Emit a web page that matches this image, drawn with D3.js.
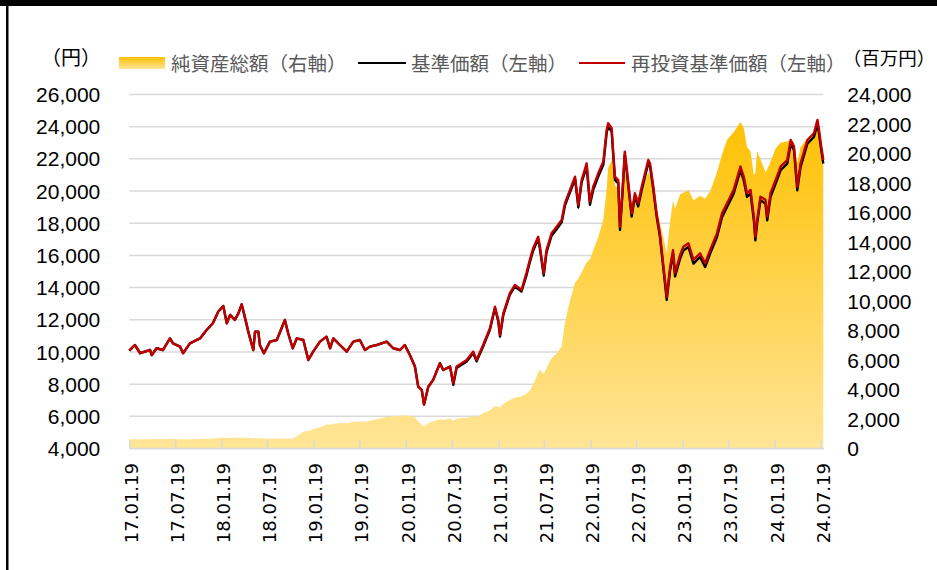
<!DOCTYPE html>
<html>
<head>
<meta charset="utf-8">
<script src="https://cdn.jsdelivr.net/npm/d3@7"></script>
<style>
html,body{margin:0;padding:0;background:#fff;}
svg{display:block;}
</style>
</head>
<body>
<svg id="chart" width="937" height="570"></svg>
<script>
// ---------------- DATA ----------------
const dates = [
"2017-01-19","2017-02-10","2017-03-03","2017-04-11","2017-04-18","2017-05-07","2017-06-01","2017-06-29","2017-07-11","2017-08-08",
"2017-08-20","2017-09-16","2017-10-26","2017-11-21","2017-12-16","2018-01-06","2018-01-26","2018-02-09","2018-02-22","2018-03-13",
"2018-03-27","2018-04-09","2018-04-29","2018-05-05","2018-05-25","2018-06-01","2018-06-14","2018-06-20","2018-07-06","2018-07-30",
"2018-08-26","2018-09-14","2018-09-27","2018-10-10","2018-10-28","2018-11-13","2018-12-09","2018-12-29","2019-01-17","2019-02-13",
"2019-03-11","2019-03-25","2019-04-07","2019-05-03","2019-05-30","2019-06-25","2019-07-21","2019-08-10","2019-08-30","2019-09-25",
"2019-11-04","2019-11-30","2019-12-27","2020-01-15","2020-02-04","2020-02-24","2020-03-08","2020-03-22","2020-03-31","2020-04-17",
"2020-05-06","2020-06-02","2020-06-15","2020-07-12","2020-07-25","2020-08-07","2020-09-16","2020-10-12","2020-10-25","2020-11-20",
"2020-12-17","2021-01-06","2021-01-19","2021-01-26","2021-02-08","2021-03-06","2021-03-26","2021-04-21","2021-05-11","2021-05-24",
"2021-06-06","2021-06-26","2021-07-03","2021-07-18","2021-07-29","2021-08-18","2021-09-07","2021-09-27","2021-10-10","2021-10-30",
"2021-11-19","2021-12-02","2021-12-15","2022-01-04","2022-01-17","2022-01-30","2022-02-19","2022-03-11","2022-03-24","2022-03-30",
"2022-04-13","2022-04-19","2022-04-26","2022-05-09","2022-05-16","2022-05-26","2022-06-04","2022-06-11","2022-07-01","2022-07-14",
"2022-07-27","2022-08-10","2022-09-05","2022-09-12","2022-09-25","2022-10-08","2022-10-21","2022-11-10","2022-11-17","2022-11-30",
"2022-12-12","2022-12-20","2023-01-09","2023-01-22","2023-02-11","2023-03-03","2023-03-29","2023-04-18","2023-05-08","2023-06-04",
"2023-06-24","2023-07-14","2023-08-09","2023-09-05","2023-09-18","2023-10-01","2023-10-15","2023-10-28","2023-11-03","2023-11-10",
"2023-11-23","2023-12-13","2023-12-20","2024-01-02","2024-01-22","2024-02-11","2024-03-08","2024-03-22","2024-04-04","2024-04-17",
"2024-04-30","2024-05-27","2024-06-22","2024-07-06","2024-07-12","2024-07-19","2024-07-29"
];

// 再投資基準価額（左軸, 円）
const navReinvest = [
10050,10400,9890,10090,9780,10200,10090,10810,10500,10300,
9890,10500,10810,11330,11750,12470,12830,11750,12270,11960,
12370,12930,11650,11230,10090,11230,11230,10400,9890,10610,
10710,11440,11960,11130,10200,10810,10710,9470,9990,10610,
10920,10200,10810,10400,9990,10610,10710,10090,10300,10400,
10610,10200,10090,10400,9780,9060,7810,7610,6700,7810,
8230,9270,8850,9060,8020,9060,9470,9990,9470,10400,
11440,12780,11960,11020,12370,13620,14130,13820,14900,15700,
16410,17130,16510,14860,16310,17340,17750,18170,19210,20040,
20860,19100,20650,21690,19310,20240,21070,21800,23760,24180,
23870,22420,20860,20650,17750,20040,22420,21490,18580,19830,
19210,20240,21900,21690,20240,18580,17340,14440,13400,15200,
16300,14860,16000,16510,16720,15690,16100,15480,16310,17340,
18580,19210,20040,21490,20860,19830,20040,18380,17130,18170,
19620,19420,18380,19830,20650,21490,21900,23140,22730,20240,
21690,23140,23560,24390,23760,22940,21900
];

// 基準価額（左軸, 円）
const nav = [
10050,10400,9890,10090,9780,10200,10090,10810,10500,10300,
9890,10500,10810,11330,11750,12470,12830,11750,12270,11960,
12370,12930,11650,11230,10090,11230,11230,10400,9890,10610,
10710,11440,11960,11130,10200,10810,10710,9470,9990,10610,
10920,10200,10810,10400,9990,10610,10710,10090,10300,10400,
10610,10200,10090,10400,9780,9060,7810,7610,6700,7810,
8230,9270,8850,9060,7930,8970,9380,9900,9380,10310,
11350,12690,11870,10930,12280,13530,14040,13730,14750,15550,
16260,16980,16360,14710,16160,17190,17600,18020,19060,19890,
20710,18950,20500,21490,19110,20040,20870,21600,23560,23980,
23670,22220,20660,20450,17550,19840,22220,21290,18380,19630,
19010,20040,21700,21490,20040,18380,17140,14240,13200,15000,
16100,14660,15770,16280,16490,15460,15870,15250,16080,17110,
18350,18980,19810,21260,20630,19600,19810,18150,16900,17940,
19390,19190,18150,19600,20420,21260,21670,22910,22500,20010,
21460,22910,23330,24160,23530,22710,21670
];

// 純資産総額（右軸, 百万円）
const netAssets = [
600,600,600,600,600,610,600,620,610,600,
590,600,610,620,650,700,720,680,700,690,
700,720,700,690,650,680,680,660,640,640,
630,640,650,640,650,800,1100,1150,1270,1400,
1600,1580,1650,1700,1680,1780,1800,1780,1850,1950,
2100,2150,2180,2200,2190,2100,1800,1600,1450,1700,
1800,1950,1900,2000,1850,2000,2050,2150,2100,2350,
2550,2850,2800,2750,3000,3250,3400,3500,3700,3900,
4300,5100,5300,5000,5400,6100,6400,6900,8500,10000,
11200,11500,11900,12600,12800,13400,14300,15500,17500,19000,
19500,18900,17800,17600,15700,17200,18800,18300,16200,17200,
17000,17600,18700,18500,17600,16200,15300,13800,13200,15300,
16800,16200,17200,17300,17500,16800,17100,16900,17400,18700,
19900,20900,21400,22100,21700,20400,20100,18500,18700,20100,
19600,18700,18900,19400,20300,20700,20800,20900,20700,19300,
20400,21000,21300,22000,21400,20400,19100
];

const tickDates = ["2017-01-19","2017-07-19","2018-01-19","2018-07-19","2019-01-19","2019-07-19","2020-01-19","2020-07-19",
"2021-01-19","2021-07-19","2022-01-19","2022-07-19","2023-01-19","2023-07-19","2024-01-19","2024-07-19"];
const leftTicks = [4000,6000,8000,10000,12000,14000,16000,18000,20000,22000,24000,26000];
const rightTicks = [0,2000,4000,6000,8000,10000,12000,14000,16000,18000,20000,22000,24000];

const legendLabels = ["純資産総額（右軸）","基準価額（左軸）","再投資基準価額（左軸）"];
const leftUnit = "（円）";
const rightUnit = "（百万円）";

// ---------------- DRAW ----------------
const parse = d3.timeParse("%Y-%m-%d");
const rows = dates.map((d,i)=>({date:parse(d), r:navReinvest[i], b:nav[i], a:netAssets[i]}));

const X0 = 129.3, X1 = 823.3, YT = 94, YB = 448;
const x = d3.scaleTime().domain([parse("2017-01-19"), parse("2024-07-29")]).range([X0, X1]);
const yL = d3.scaleLinear().domain([4000, 26000]).range([YB, YT]);
const yR = d3.scaleLinear().domain([0, 24000]).range([YB, YT]);

const svg = d3.select("#chart");

const defs = svg.append("defs");
const g1 = defs.append("linearGradient").attr("id","areaGrad")
  .attr("gradientUnits","userSpaceOnUse").attr("x1",0).attr("x2",0).attr("y1",YT+20).attr("y2",YB);
g1.append("stop").attr("offset","0").attr("stop-color","#FFC000");
g1.append("stop").attr("offset","1").attr("stop-color","#FFE597");
const g2 = defs.append("linearGradient").attr("id","swGrad")
  .attr("x1",0).attr("x2",0).attr("y1",0).attr("y2",1);
g2.append("stop").attr("offset","0").attr("stop-color","#FFC000");
g2.append("stop").attr("offset","1").attr("stop-color","#FFE597");

// frame
svg.append("rect").attr("x",0).attr("y",0).attr("width",937).attr("height",6).attr("fill","#000");
svg.append("rect").attr("x",6).attr("y",0).attr("width",2.5).attr("height",570).attr("fill","#000");

// gridlines
const grid = svg.append("g").attr("transform",`translate(${X0},0)`)
  .call(d3.axisLeft(yL).tickValues(leftTicks).tickSize(-(X1-X0)).tickFormat(""));
grid.select(".domain").remove();
grid.selectAll("line").attr("stroke","#D9D9D9").attr("stroke-width",1.5);

// area
svg.append("path").datum(rows)
  .attr("fill","url(#areaGrad)")
  .attr("d", d3.area().x(d=>x(d.date)).y0(yR(0)).y1(d=>yR(d.a)));

// bottom axis
const xa = svg.append("g").attr("transform",`translate(0,${YB})`)
  .call(d3.axisBottom(x).tickValues(tickDates.map(parse)).tickSize(-8).tickSizeOuter(0)
        .tickFormat(d3.timeFormat("%y.%m.%d")));
xa.select(".domain").attr("stroke","#D9D9D9").attr("stroke-width",1.5);
xa.selectAll(".tick line").attr("stroke","#D9D9D9").attr("stroke-width",1.5);
xa.selectAll(".tick text")
  .attr("transform","rotate(-90)")
  .attr("x",-15).attr("y",2).attr("dy","0.35em")
  .attr("text-anchor","end")
  .attr("fill","#000")
  .style("font-family","'DejaVu Sans'").style("font-size","18px");

// lines
const lineB = d3.line().x(d=>x(d.date)).y(d=>yL(d.b));
const lineR = d3.line().x(d=>x(d.date)).y(d=>yL(d.r));
svg.append("path").datum(rows).attr("fill","none").attr("stroke","#000")
  .attr("stroke-width",2.4).attr("stroke-linejoin","round").attr("d",lineB);
svg.append("path").datum(rows).attr("fill","none").attr("stroke","#C00000")
  .attr("stroke-width",2.4).attr("stroke-linejoin","round").attr("d",lineR);

// left axis labels
const la = svg.append("g").attr("transform",`translate(${X0},0)`)
  .call(d3.axisLeft(yL).tickValues(leftTicks).tickSize(0).tickPadding(29).tickFormat(d3.format(",")));
la.select(".domain").remove();
la.selectAll("text").attr("fill","#000").attr("dy","0.36em")
  .style("font-family","'Liberation Sans', Arial, sans-serif").style("font-size","21px");

// right axis labels
const ra = svg.append("g").attr("transform",`translate(${X1},0)`)
  .call(d3.axisRight(yR).tickValues(rightTicks).tickSize(0).tickPadding(24).tickFormat(d3.format(",")));
ra.select(".domain").remove();
ra.selectAll("text").attr("fill","#000").attr("dy","0.36em")
  .style("font-family","'Liberation Sans', Arial, sans-serif").style("font-size","21px");

// units
const cjk = "'Noto Sans CJK JP','Noto Sans CJK SC',sans-serif";
svg.append("text").attr("x",71).attr("y",56).attr("text-anchor","middle").attr("dominant-baseline","central")
  .style("font-family",cjk).style("font-size","20px").attr("fill","#000").text(leftUnit);
svg.append("text").attr("x",889).attr("y",57).attr("text-anchor","middle").attr("dominant-baseline","central")
  .style("font-family",cjk).style("font-size","18.5px").attr("fill","#000").text(rightUnit);

// legend
const LY = 62;
svg.append("rect").attr("x",119).attr("y",57).attr("width",46).attr("height",12).attr("fill","url(#swGrad)");
svg.append("line").attr("x1",358).attr("x2",406).attr("y1",LY+1).attr("y2",LY+1).attr("stroke","#000").attr("stroke-width",2);
svg.append("line").attr("x1",579).attr("x2",625).attr("y1",LY+1).attr("y2",LY+1).attr("stroke","#C00000").attr("stroke-width",2);
[[171,legendLabels[0]],[411,legendLabels[1]],[631,legendLabels[2]]].forEach(([lx,t])=>{
  svg.append("text").attr("x",lx).attr("y",LY).attr("dominant-baseline","central")
    .style("font-family",cjk).style("font-size","19.5px").attr("fill","#595959").text(t);
});
</script>
</body>
</html>
